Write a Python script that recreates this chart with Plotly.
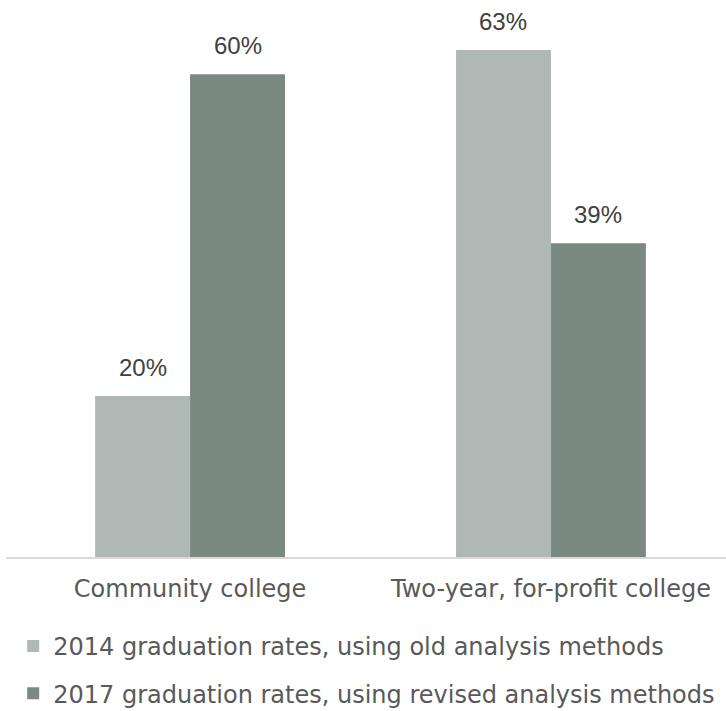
import plotly.graph_objects as go

categories = ["Community college", "Two-year, for-profit college"]
series_names = [
    "2014 graduation rates, using old analysis methods",
    "2017 graduation rates, using revised analysis methods",
]
values_2014 = [20, 63]
values_2017 = [60, 39]
colors = ["#AEB8B5", "#7A8982"]

fig = go.Figure()
all_values = [values_2014, values_2017]
for i, (name, vals) in enumerate(zip(series_names, all_values)):
    fig.add_trace(go.Bar(
        x=categories, y=vals, name=name,
        marker=dict(color=colors[i], line=dict(width=0)),
        legendgroup=f"g{i}",
    ))

bar_px = 47.5
for i, vals in enumerate(all_values):
    shift = -bar_px if i == 0 else bar_px
    for c, v in zip(categories, vals):
        fig.add_annotation(
            x=c, y=v, text=f"{v}%", showarrow=False,
            xshift=shift, yshift=29, yanchor="middle",
            font=dict(family="Liberation Sans, Arial", size=24, color="#404040"),
        )

fig.update_layout(
    width=726, height=711,
    margin=dict(l=6, r=0, t=34, b=154, autoexpand=False),
    paper_bgcolor="white", plot_bgcolor="white",
    barmode="group", bargap=0.474, bargroupgap=0,
    font=dict(family="DejaVu Sans, Verdana", size=24, color="#595959"),
    xaxis=dict(
        range=[-0.51, 1.485], showline=True, linecolor="#D9D9D9", linewidth=2,
        ticks="", showgrid=False, ticklabelstandoff=9, automargin=False,
        tickfont=dict(size=24, color="#595959"),
    ),
    yaxis=dict(range=[0, 65], visible=False, showgrid=False, zeroline=False,
               automargin=False),
    legend=dict(
        orientation="v", x=0.01, xanchor="left", y=-0.128, yanchor="top",
        font=dict(size=24, color="#595959"), tracegroupgap=13,
        bgcolor="rgba(0,0,0,0)",
    ),
)

fig.write_html("out.html", config={"displayModeBar": False},
               post_script="document.body.style.margin='0px';")
